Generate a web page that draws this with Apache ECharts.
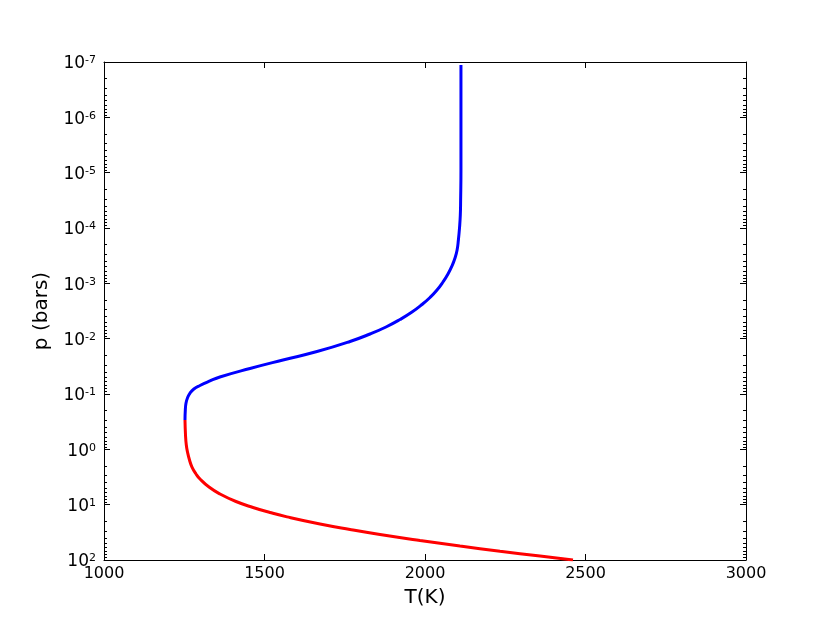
<!DOCTYPE html>
<html>
<head>
<meta charset="utf-8">
<script src="https://cdn.jsdelivr.net/npm/echarts@6/dist/echarts.min.js"></script>
<style>
  html, body { margin: 0; padding: 0; background: #fff; }
</style>
</head>
<body>
<div id="container" style="width:830px;height:623px;"></div>
<script>
  // 上层（蓝色）温度-压力廓线
  var blueT = [2112, 2112, 2112, 2111, 2110, 2107.5, 2104, 2100, 2093.5, 2084, 2071.6, 2056, 2037.4, 2015.6, 1990.7, 1959.5, 1922, 1878.5, 1828.7, 1766.4, 1663.6, 1557.6, 1454.8, 1361, 1330, 1299, 1280, 1268, 1260, 1255.5, 1253.3, 1252.3]
  var blueP = [1.13e-7, 1e-6, 8.95e-6, 3.12e-5, 5.82e-5, 1.0e-4, 1.65e-4, 2.5e-4, 3.48e-4, 4.86e-4, 6.78e-4, 9.46e-4, 1.32e-3, 1.8e-3, 2.41e-3, 3.3e-3, 4.51e-3, 6.15e-3, 8.23e-3, 1.124e-2, 1.71e-2, 2.43e-2, 3.46e-2, 4.93e-2, 5.82e-2, 7.02e-2, 8.13e-2, 9.6e-2, 0.118, 0.146, 0.195, 0.295]
  // 下层（红色）温度-压力廓线
  var redT = [1252.3, 1253.9, 1256.4, 1260.1, 1266.4, 1274.1, 1286.6, 1299.1, 1327.1, 1361.4, 1411.2, 1464.2, 1517.1, 1570.1, 1672.9, 1766.4, 1859.8, 1984.4, 2109, 2233.6, 2358.2, 2461]
  var redP = [0.295, 0.551, 0.835, 1.117, 1.56, 2.09, 2.79, 3.44, 4.8, 6.41, 8.77, 11.25, 13.85, 16.6, 22.35, 28.1, 34.6, 44.4, 56.0, 69.5, 84.9, 100]

  var pMin = 1e-7
  var pMax = 1e2

  function zip(a, b) {
    var out = []
    for (var i = 0; i < a.length; i++) out.push([a[i], b[i]])
    return out
  }

  // 次刻度：每个数量级内 2..9
  var minorTicks = []
  for (var n = -7; n < 2; n++) {
    for (var k = 2; k <= 9; k++) minorTicks.push(n + Math.log10(k))
  }

  var lineColor = '#000'
  var fontFam = 'DejaVu Sans'

  function majorY(pos, show) {
    return {
      type: 'log',
      logBase: 10,
      position: pos,
      min: pMin,
      max: pMax,
      interval: 1,
      inverse: true,
      axisLine: { show: true, onZero: false, lineStyle: { color: lineColor, width: 1 } },
      axisTick: { show: true, inside: true, length: 6, lineStyle: { color: lineColor } },
      splitLine: { show: false },
      axisLabel: {
        show: show,
        margin: 8,
        padding: [4, 0, 0, 0],
        formatter: function (v) {
          var e = Math.round(Math.log10(v))
          return '{b|10}{s|' + e + '}'
        },
        rich: {
          b: { fontSize: 17, lineHeight: 18, fontFamily: fontFam, color: '#000' },
          s: { fontSize: 11, lineHeight: 18, verticalAlign: 'top', fontFamily: fontFam, color: '#000' }
        }
      }
    }
  }

  function minorY(pos) {
    return {
      type: 'value',
      position: pos,
      min: -7,
      max: 2,
      inverse: true,
      axisLine: { show: false, onZero: false },
      axisTick: { show: true, inside: true, length: 3, customValues: minorTicks, lineStyle: { color: lineColor } },
      axisLabel: { show: false },
      splitLine: { show: false }
    }
  }

  function xAx(pos, show) {
    return {
      type: 'value',
      position: pos,
      min: 1000,
      max: 3000,
      interval: 500,
      name: show ? 'T(K)' : '',
      nameLocation: 'middle',
      nameGap: 28,
      nameTextStyle: { fontSize: 20, fontFamily: fontFam, color: '#000' },
      axisLine: { show: true, onZero: false, lineStyle: { color: lineColor, width: 1 } },
      axisTick: { show: true, inside: true, length: 6, lineStyle: { color: lineColor } },
      splitLine: { show: false },
      axisLabel: {
        show: show,
        margin: 6,
        fontSize: 16,
        fontFamily: fontFam,
        color: '#000',
        formatter: function (v) { return String(v) }
      }
    }
  }

  var left = majorY('left', true)
  left.name = 'p (bars)'
  left.nameLocation = 'middle'
  left.nameGap = 52
  left.nameTextStyle = { fontSize: 20, fontFamily: fontFam, color: '#000' }

  var myChart = echarts.init(document.getElementById('container'))
  myChart.setOption({
    animation: false,
    backgroundColor: '#fff',
    grid: { left: 104, right: 84, top: 62, bottom: 63, containLabel: false },
    xAxis: [xAx('bottom', true), xAx('top', false)],
    yAxis: [left, minorY('left'), majorY('right', false), minorY('right')],
    series: [
      {
        name: 'upper',
        type: 'line',
        xAxisIndex: 0,
        yAxisIndex: 0,
        data: zip(blueT, blueP),
        smooth: 0.5,
        showSymbol: false,
        lineStyle: { color: '#0000ff', width: 3 }
      },
      {
        name: 'lower',
        type: 'line',
        xAxisIndex: 0,
        yAxisIndex: 0,
        data: zip(redT, redP),
        smooth: 0.5,
        showSymbol: false,
        lineStyle: { color: '#ff0000', width: 3 }
      }
    ]
  })
</script>
</body>
</html>
